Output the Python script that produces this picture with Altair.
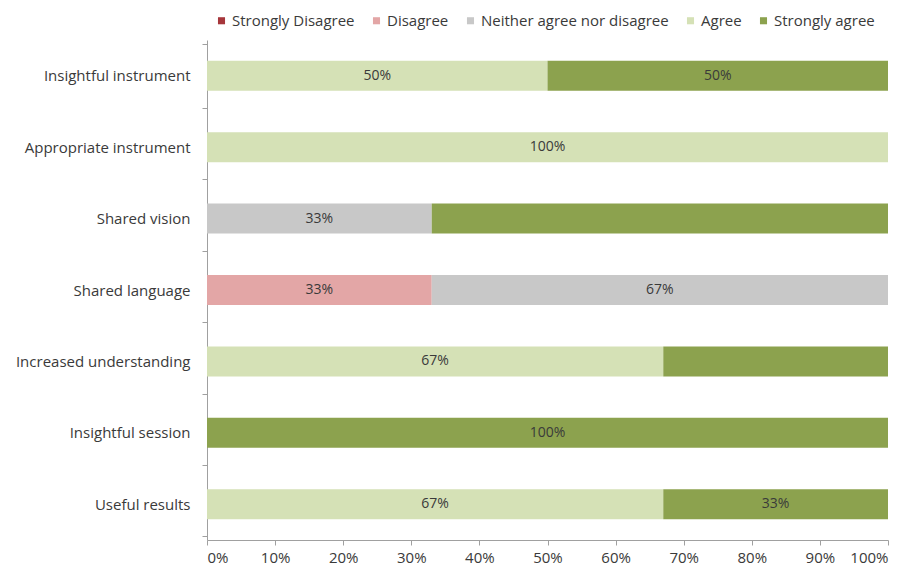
import altair as alt
import pandas as pd

questions = ["Insightful instrument", "Appropriate instrument", "Shared vision",
             "Shared language", "Increased understanding", "Insightful session",
             "Useful results"]
responses = ["Strongly Disagree", "Disagree", "Neither agree nor disagree",
             "Agree", "Strongly agree"]
colors = ["#A6363B", "#E3A6A6", "#C8C8C8", "#D5E1B6", "#8CA24E"]

# percent per question, in order of responses
values = {
    "Insightful instrument":   [0, 0, 0, 50, 50],
    "Appropriate instrument":  [0, 0, 0, 100, 0],
    "Shared vision":           [0, 0, 33, 0, 67],
    "Shared language":         [0, 33, 67, 0, 0],
    "Increased understanding": [0, 0, 0, 67, 33],
    "Insightful session":      [0, 0, 0, 0, 100],
    "Useful results":          [0, 0, 0, 67, 33],
}
# which segments carry a printed label in the original
shown = {
    "Insightful instrument":   [0, 0, 0, 1, 1],
    "Appropriate instrument":  [0, 0, 0, 1, 0],
    "Shared vision":           [0, 0, 1, 0, 0],
    "Shared language":         [0, 1, 1, 0, 0],
    "Increased understanding": [0, 0, 0, 1, 0],
    "Insightful session":      [0, 0, 0, 0, 1],
    "Useful results":          [0, 0, 0, 1, 1],
}

rows = []
for q in questions:
    for i, r in enumerate(responses):
        rows.append({"question": q, "response": r, "order": i,
                     "value": values[q][i],
                     "label": f"{values[q][i]}%" if shown[q][i] else ""})
df = pd.DataFrame(rows)

FONT = "Open Sans"
FS = 15

base = alt.Chart(df).transform_stack(
    stack="value", groupby=["question"], as_=["x0", "x1"],
    sort=[alt.SortField("order", order="ascending")]
)

bars = base.mark_bar(size=30).encode(
    y=alt.Y("question:N", sort=questions, title=None,
            axis=alt.Axis(tickBand="extent", labelFontSize=FS, labelFont=FONT,
                          labelColor="#3a3a3a", domainColor="#a0a0a0",
                          tickColor="#a0a0a0", tickSize=5, labelPadding=12,
                          labelLimit=300)),
    x=alt.X("x0:Q", scale=alt.Scale(domain=[0, 100], nice=False), title=None,
            axis=alt.Axis(values=list(range(0, 101, 10)),
                          labelExpr="datum.value + '%'", grid=False,
                          labelFontSize=FS, labelFont=FONT, labelColor="#3a3a3a",
                          domainColor="#a0a0a0", tickColor="#a0a0a0",
                          tickSize=5, labelPadding=5)),
    x2="x1:Q",
    color=alt.Color("response:N", sort=responses,
                    scale=alt.Scale(domain=responses, range=colors),
                    legend=alt.Legend(orient="none", direction="horizontal",
                                      legendX=7, legendY=-27, title=None,
                                      symbolType="square", symbolSize=50,
                                      symbolStrokeWidth=0, labelFont=FONT,
                                      labelFontSize=FS, labelColor="#3a3a3a",
                                      labelOffset=3, columnPadding=14,
                                      labelLimit=400)),
)

texts = base.transform_filter(alt.datum.label != "").transform_calculate(
    mid="(datum.x0 + datum.x1) / 2"
).mark_text(font=FONT, fontSize=14, color="#3a3a3a").encode(
    y=alt.Y("question:N", sort=questions),
    x=alt.X("mid:Q"),
    text="label:N",
)

chart = alt.layer(bars, texts).properties(
    width=681, height=500,
    autosize=alt.AutoSizeParams(type="none"),
    padding={"left": 199, "top": 32, "right": 14, "bottom": 30},
).configure_view(stroke=None)

chart.save("out.html", embed_options={"renderer": "svg", "actions": False})
